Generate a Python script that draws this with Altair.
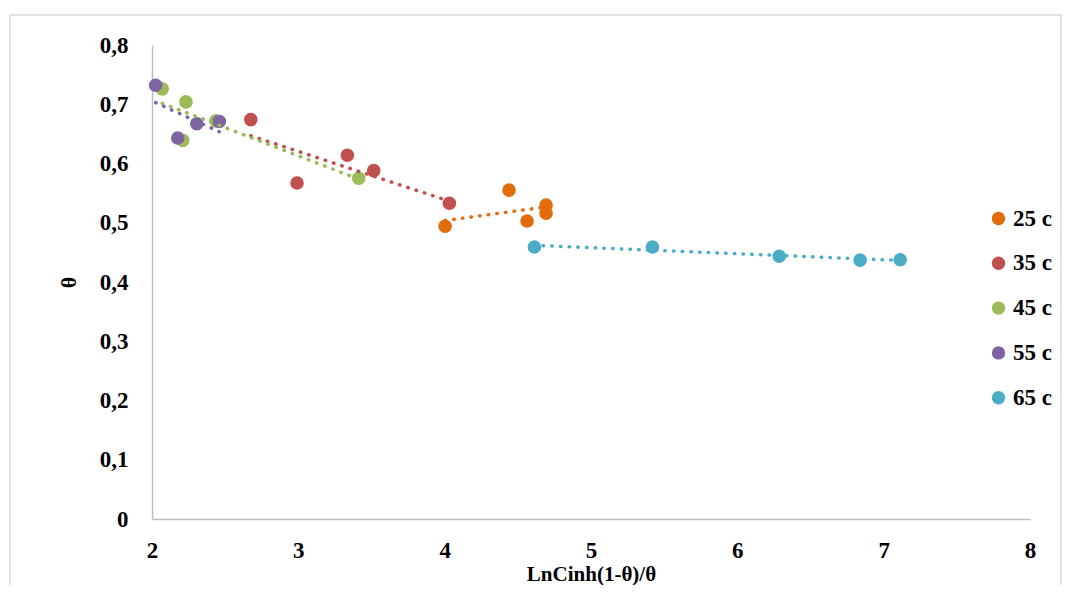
import altair as alt
import pandas as pd

series_names = ["25 c", "35 c", "45 c", "55 c", "65 c"]
series_colors = ["#E36C0A", "#C0504D", "#9BBB59", "#8064A2", "#4BACC6"]

x_25 = [4.003, 4.44, 4.563, 4.693, 4.693]
y_25 = [0.494, 0.555, 0.503, 0.530, 0.516]

x_35 = [2.675, 2.991, 3.335, 3.515, 4.032]
y_35 = [0.674, 0.567, 0.614, 0.588, 0.533]

x_45 = [2.070, 2.232, 2.210, 2.437, 3.413]
y_45 = [0.726, 0.704, 0.639, 0.672, 0.575]

x_55 = [2.025, 2.306, 2.176, 2.460]
y_55 = [0.732, 0.667, 0.643, 0.671]

x_65 = [4.613, 5.420, 6.286, 6.839, 7.113]
y_65 = [0.459, 0.459, 0.4435, 0.437, 0.4375]

y_ticks = [0, 0.1, 0.2, 0.3, 0.4, 0.5, 0.6, 0.7, 0.8]
x_ticks = [2, 3, 4, 5, 6, 7, 8]

rows = []
for name, xs, ys in zip(series_names,
                        [x_25, x_35, x_45, x_55, x_65],
                        [y_25, y_35, y_45, y_55, y_65]):
    for xv, yv in zip(xs, ys):
        rows.append({"x": xv, "y": yv, "series": name})
df = pd.DataFrame(rows)

FONT = "Liberation Serif"
LABEL_SIZE = 23

color = alt.Color(
    "series:N",
    scale=alt.Scale(domain=series_names, range=series_colors),
    legend=alt.Legend(
        title=None, orient="none", legendX=835, legendY=162,
        symbolType="circle", symbolSize=180, symbolStrokeWidth=0,
        labelFont=FONT, labelFontSize=LABEL_SIZE, labelFontWeight="bold",
        labelColor="#000000", rowPadding=20.8, labelOffset=3, padding=0,
    ),
)

xenc = alt.X(
    "x:Q",
    scale=alt.Scale(domain=[2, 8], nice=False, zero=False),
    axis=alt.Axis(
        values=x_ticks, format="d", title="LnCinh(1-θ)/θ", grid=False, ticks=False,
        domainColor="#BFBFBF", domainWidth=1.5, labelFlush=False,
        labelFont=FONT, labelFontSize=LABEL_SIZE, labelFontWeight="bold", labelColor="#000000",
        labelPadding=20,
        titleFont=FONT, titleFontSize=21, titleFontWeight="bold", titleColor="#000000",
        titleX=439, titleY=55, titleBaseline="middle", titleAlign="center",
    ),
)
yenc = alt.Y(
    "y:Q",
    scale=alt.Scale(domain=[0, 0.8], nice=False),
    axis=alt.Axis(
        values=y_ticks, title="θ", grid=False, ticks=False,
        domainColor="#BFBFBF", domainWidth=1.5, labelFlush=False,
        labelExpr="datum.value == 0 ? '0' : replace(format(datum.value, '.1f'), '.', ',')",
        labelFont=FONT, labelFontSize=LABEL_SIZE, labelFontWeight="bold", labelColor="#000000",
        labelPadding=24,
        titleFont=FONT, titleFontSize=22, titleFontWeight="bold", titleColor="#000000",
        titleX=-84, titleY=237, titleBaseline="middle", titleAlign="center",
    ),
)

border = alt.Chart(pd.DataFrame({"a": [0]})).mark_rect(
    fill=None, stroke="#D9D9D9", strokeWidth=1.5
).encode(
    x=alt.value(-142), x2=alt.value(909), y=alt.value(-30), y2=alt.value(600)
)

points = alt.Chart(df).mark_point(filled=True, size=185, opacity=1).encode(
    x=xenc, y=yenc, color=color
)

lines = alt.Chart(df).transform_regression(
    "x", "y", groupby=["series"]
).mark_line(strokeDash=[0.5, 8.2], strokeWidth=3.5, strokeCap="round").encode(
    x="x:Q", y="y:Q",
    color=alt.Color("series:N", scale=alt.Scale(domain=series_names, range=series_colors), legend=None),
)

chart = alt.layer(border, points, lines).properties(
    width=878, height=474,
    background="#FFFFFF",
    autosize=alt.AutoSizeParams(type="none"),
    padding={"left": 144, "top": 37, "right": 32, "bottom": 66},
).configure_view(strokeWidth=0, stroke=None)

chart.save("out.html", embed_options={"renderer": "svg", "actions": False})
